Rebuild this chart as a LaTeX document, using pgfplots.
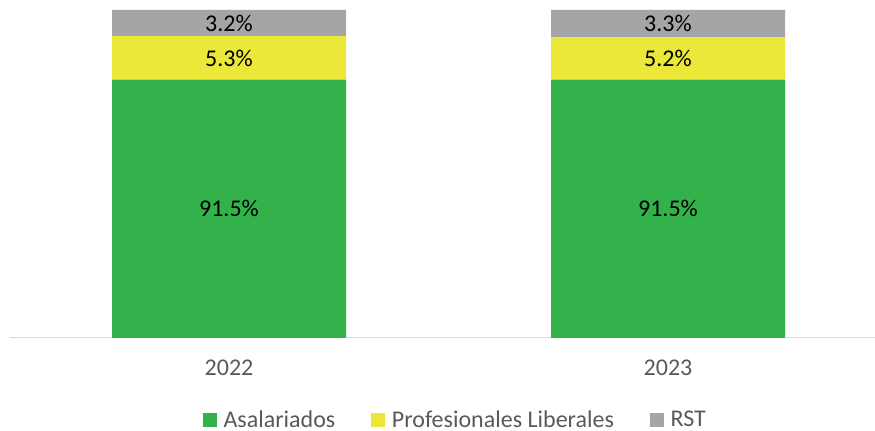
\documentclass[border=0pt]{standalone}
\usepackage{pgfplots}
\pgfplotsset{compat=1.18}
\usepackage{fontspec}
\setmainfont{Carlito}
\definecolor{cgreen}{HTML}{33B24B}
\definecolor{cyellow}{HTML}{EBE83A}
\definecolor{cgray}{HTML}{A5A5A5}
\definecolor{ctext}{HTML}{595959}
\definecolor{caxis}{HTML}{D9D9D9}
\newcommand{\fs}{\fontsize{18}{21}\selectfont}
\begin{document}
\begin{tikzpicture}
\path[use as bounding box] (0,0) rectangle (656.25pt,323.25pt);
\begin{axis}[
  at={(7.125pt,69.75pt)}, anchor=south west,
  scale only axis, width=649.125pt, height=246pt,
  xmin=-0.5, xmax=1.4715, ymin=60, ymax=100,
  ybar stacked, bar width=175.5pt,
  axis y line=none, axis x line*=bottom,
  x axis line style={draw=caxis, line width=0.75pt, -},
  xtick={0,1}, xticklabels={2022,2023}, major tick length=0pt,
  xticklabel style={font=\fs, text=ctext, anchor=center, yshift=-22.5pt},
  legend style={at={(0.514,-0.250)}, anchor=center, draw=none, fill=none,
    font=\fs, text=ctext, legend columns=3, inner sep=0pt,
    nodes={inner sep=0pt},
    /tikz/every odd column/.append style={column sep=5pt},
    /tikz/every even column/.append style={column sep=27pt}},
  legend image code/.code={\fill[#1] (0pt,-5pt) rectangle (10.5pt,5pt);},
  after end axis/.code={
    \node[font=\fs] at (axis cs:0,75.75) {91.5\%};
    \node[font=\fs] at (axis cs:1,75.75) {91.5\%};
    \node[font=\fs] at (axis cs:0,94.15) {5.3\%};
    \node[font=\fs] at (axis cs:1,94.1) {5.2\%};
    \node[font=\fs] at (axis cs:0,98.4) {3.2\%};
    \node[font=\fs] at (axis cs:1,98.35) {3.3\%};
  },
]
\addplot[fill=cgreen, draw=none] coordinates {(0,91.5) (1,91.5)};
\addplot[fill=cyellow, draw=none] coordinates {(0,5.3) (1,5.2)};
\addplot[fill=cgray, draw=none] coordinates {(0,3.2) (1,3.3)};
\legend{Asalariados, Profesionales Liberales, RST}
\end{axis}
\end{tikzpicture}
\end{document}
